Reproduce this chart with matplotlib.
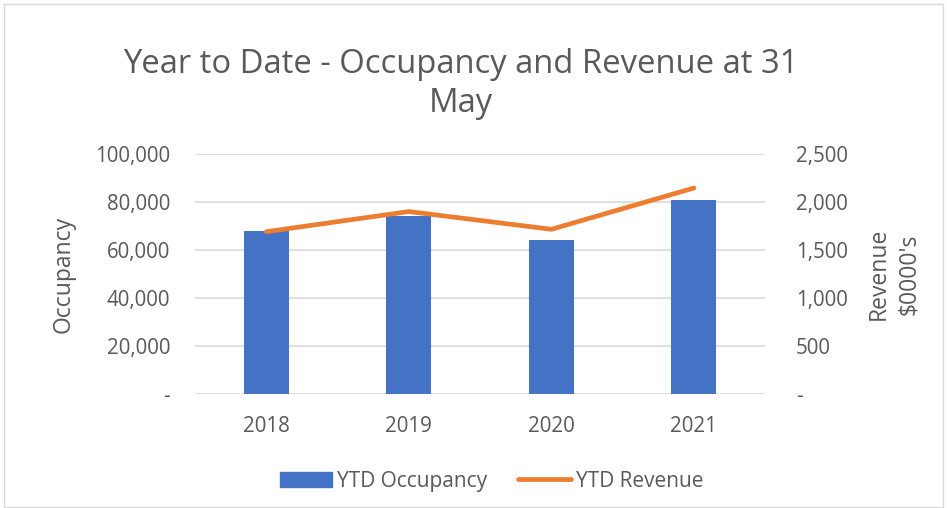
import numpy as np
import matplotlib.pyplot as plt
from matplotlib.patches import Rectangle, Patch
from matplotlib.lines import Line2D

# Data
years = ['2018', '2019', '2020', '2021']
occupancy = [68000, 74000, 64000, 81000]
revenue = [1690, 1900, 1715, 2145]

occ_ticks = [0, 20000, 40000, 60000, 80000, 100000]
occ_labels = ['-', '20,000', '40,000', '60,000', '80,000', '100,000']
rev_ticks = [0, 500, 1000, 1500, 2000, 2500]
rev_labels = ['-', '500', '1,000', '1,500', '2,000', '2,500']

plt.rcParams['font.family'] = ['Open Sans', 'DejaVu Sans']
grey = '#595959'
blue = '#4472C4'
orange = '#ED7D31'

fig = plt.figure(figsize=(9.47, 5.08), dpi=100)
ax = fig.add_axes([0.206, 0.2244, 0.602, 0.4726])
x = np.arange(len(years))

ax.bar(x, occupancy, width=0.315, color=blue, zorder=2)
ax.set_ylim(0, 100000)
ax.set_xlim(-0.5, 3.5)
ax.set_yticks(occ_ticks)
ax.set_yticklabels(occ_labels)
ax.set_xticks(x)
ax.set_xticklabels(years)
ax.grid(axis='y', color='#d9d9d9', linewidth=1.2, zorder=0)
ax.set_axisbelow(True)
for s in ax.spines.values():
    s.set_visible(False)
ax.tick_params(length=0, labelsize=14.8, colors=grey, pad=18)
ax.tick_params(axis='x', pad=16)
ax.set_ylabel('Occupancy', fontsize=16.5, color=grey, labelpad=14)

ax2 = ax.twinx()
ax2.plot(x, revenue, color=orange, linewidth=3.4, solid_capstyle='round', zorder=3)
ax2.set_ylim(0, 2500)
ax2.set_yticks(rev_ticks)
ax2.set_yticklabels(rev_labels)
for s in ax2.spines.values():
    s.set_visible(False)
ax2.tick_params(length=0, labelsize=14.8, colors=grey, pad=22)
ax2.set_ylabel("Revenue\n$0000's", fontsize=16.5, color=grey, labelpad=14, linespacing=1.35)

fig.text(0.487, 0.834, 'Year to Date - Occupancy and Revenue at 31\nMay',
         ha='center', va='center', fontsize=23.6, color=grey, linespacing=1.25)

handles = [Patch(color=blue), Line2D([0], [0], color=orange, linewidth=3.4, solid_capstyle='round')]
fig.legend(handles, ['YTD Occupancy', 'YTD Revenue'], loc='center', bbox_to_anchor=(0.519, 0.053),
           ncol=2, frameon=False, fontsize=15, labelcolor=grey, handlelength=2.5,
           handleheight=0.75, handletextpad=0.25, columnspacing=1.5)

fig.add_artist(Rectangle((0.004, 0.002), 0.992, 0.99, transform=fig.transFigure,
                         fill=False, edgecolor='#d9d9d9', linewidth=1))

fig.savefig('out.png', dpi=100)
